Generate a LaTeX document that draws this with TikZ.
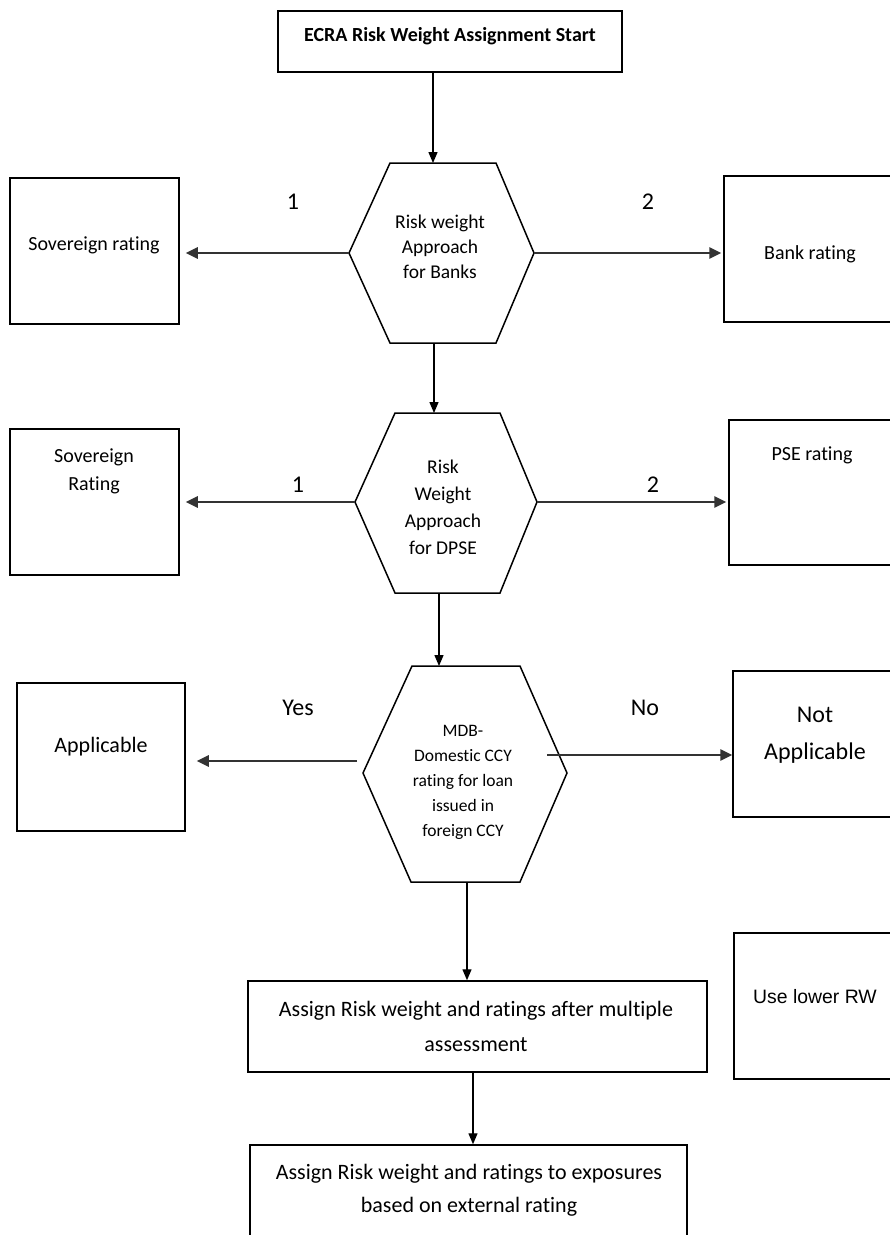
\documentclass[tikz,border=0pt]{standalone}
\usepackage{fontspec}
\setmainfont{Carlito}[Ligatures=NoCommon]
\newfontfamily\arialfont{Liberation Sans}
\usetikzlibrary{arrows.meta}

\tikzset{
  box/.style={draw, line width=1.5pt, inner sep=0pt},
  hexline/.style={line width=1.5pt, line join=miter},
  txt/.style={align=center, inner sep=0pt, font=\fontsize{20}{25}\selectfont},
  lbl/.style={inner sep=0pt, font=\fontsize{24}{28}\selectfont},
  flow/.style={line width=1.3pt, -{Triangle[length=11pt,width=9pt]}},
  side/.style={line width=2.6pt, draw=black!80, -{Triangle[length=12pt,width=11pt]}},
}

\begin{document}
\begin{tikzpicture}[x=1pt, y=-1pt]
	\useasboundingbox (0,0) rectangle (890,1235);
	%
	\node[box, minimum width=344pt, minimum height=61pt] (start) at (450,41.5) {};
	\node[txt, font=\bfseries\fontsize{20}{25}\selectfont] (starttxt) at (450,36) {ECRA Risk Weight Assignment Start};
	%
	\coordinate (h1nw) at (390,163);
	\coordinate (h1ne) at (496,163);
	\coordinate (h1e) at (534,253);
	\coordinate (h1se) at (496,343);
	\coordinate (h1sw) at (390,343);
	\coordinate (h1w) at (349,253);
	\coordinate (h1n) at (433,163);
	\coordinate (h1s) at (434,343);
	\draw[hexline] (h1nw) -- (h1ne) -- (h1e) -- (h1se) -- (h1sw) -- (h1w) -- cycle;
	\node[txt, font=\fontsize{19.5}{25}\selectfont] (h1txt) at (440,247) {Risk weight\\Approach\\for Banks};
	%
	\node[box, minimum width=169pt, minimum height=146pt] (sov1) at (94.5,251) {};
	\node[txt] (sov1txt) at (94,245) {Sovereign rating};
	\node[box, minimum width=180pt, minimum height=146pt] (bank) at (814,249) {};
	\node[txt] (banktxt) at (810,254) {Bank rating};
	\node[lbl] (one1) at (293,202) {1};
	\node[lbl] (two1) at (648,202) {2};
	%
	\coordinate (h2nw) at (395,413);
	\coordinate (h2ne) at (500,413);
	\coordinate (h2e) at (537,502);
	\coordinate (h2se) at (500,593);
	\coordinate (h2sw) at (395,593);
	\coordinate (h2w) at (355,502);
	\coordinate (h2n) at (434,413);
	\coordinate (h2s) at (439,593);
	\draw[hexline] (h2nw) -- (h2ne) -- (h2e) -- (h2se) -- (h2sw) -- (h2w) -- cycle;
	\node[txt, font=\fontsize{19.5}{27}\selectfont] (h2txt) at (443,507) {Risk\\Weight\\Approach\\for DPSE};
	%
	\node[box, minimum width=169pt, minimum height=146pt] (sov2) at (94.5,502) {};
	\node[txt, font=\fontsize{20}{28}\selectfont] (sov2txt) at (94,471) {Sovereign\\Rating};
	\node[box, minimum width=180pt, minimum height=145pt] (pse) at (819,492.5) {};
	\node[txt] (psetxt) at (812,455) {PSE rating};
	\node[lbl] (one2) at (298,485) {1};
	\node[lbl] (two2) at (653,485) {2};
	%
	\coordinate (h3nw) at (412,666);
	\coordinate (h3ne) at (520,666);
	\coordinate (h3e) at (567,773);
	\coordinate (h3se) at (520,882);
	\coordinate (h3sw) at (411,882);
	\coordinate (h3w) at (363,773);
	\coordinate (h3n) at (439,666);
	\coordinate (h3s) at (467,882);
	\coordinate (h3l) at (357,761);
	\coordinate (h3r) at (547,755);
	\draw[hexline] (h3nw) -- (h3ne) -- (h3e) -- (h3se) -- (h3sw) -- (h3w) -- cycle;
	\node[txt, font=\fontsize{17.5}{25}\selectfont] (h3txt) at (463,782) {MDB-\\Domestic CCY\\rating for loan\\issued in\\foreign CCY};
	%
	\node[box, minimum width=168pt, minimum height=148pt] (appl) at (101,757) {};
	\node[txt, font=\fontsize{22}{27}\selectfont] (appltxt) at (101,747) {Applicable};
	\node[box, minimum width=180pt, minimum height=146pt] (notappl) at (823,744) {};
	\node[txt, font=\fontsize{24}{37}\selectfont] (notappltxt) at (815,735) {Not\\Applicable};
	\node[lbl] (yes) at (298,708) {Yes};
	\node[lbl] (no) at (645,708) {No};
	%
	\node[box, minimum width=459pt, minimum height=91pt] (assign1) at (477.5,1026.5) {};
	\node[txt, font=\fontsize{22}{35}\selectfont] (assign1txt) at (476,1026) {Assign Risk weight and ratings after multiple\\assessment};
	\node[box, minimum width=437pt, minimum height=120pt] (assign2) at (468.5,1205) {};
	\node[txt, font=\fontsize{22}{33}\selectfont] (assign2txt) at (469,1190) {Assign Risk weight and ratings to exposures\\based on external rating};
	\node[box, minimum width=180pt, minimum height=146pt] (lowrw) at (824,1006) {};
	\node[txt, font=\arialfont\fontsize{19.4}{24}\selectfont] (lowrwtxt) at (815,997) {Use lower RW};
	%
	\draw[flow] (start.south -| h1n) -- (h1n);
	\draw[flow] (h1s) -- (h1s |- h2n);
	\draw[flow] (h2s) -- (h2s |- h3n);
	\draw[flow] (h3s) -- (h3s |- assign1.north);
	\draw[flow] ([xshift=-4.5pt]assign1.south) -- ([xshift=-4.5pt]assign1.south |- assign2.north);
	%
	\draw[side, shorten >=6pt] (h1w) -- (sov1.east |- h1w);
	\draw[side, shorten >=2pt] (h1e) -- (bank.west |- h1e);
	\draw[side, shorten >=6pt] (h2w) -- (sov2.east |- h2w);
	\draw[side, shorten >=2pt] (h2e) -- (pse.west |- h2e);
	\draw[side, shorten >=11pt] (h3l) -- (appl.east |- h3l);
	\draw[side] (h3r) -- (notappl.west |- h3r);
\end{tikzpicture}
\end{document}
